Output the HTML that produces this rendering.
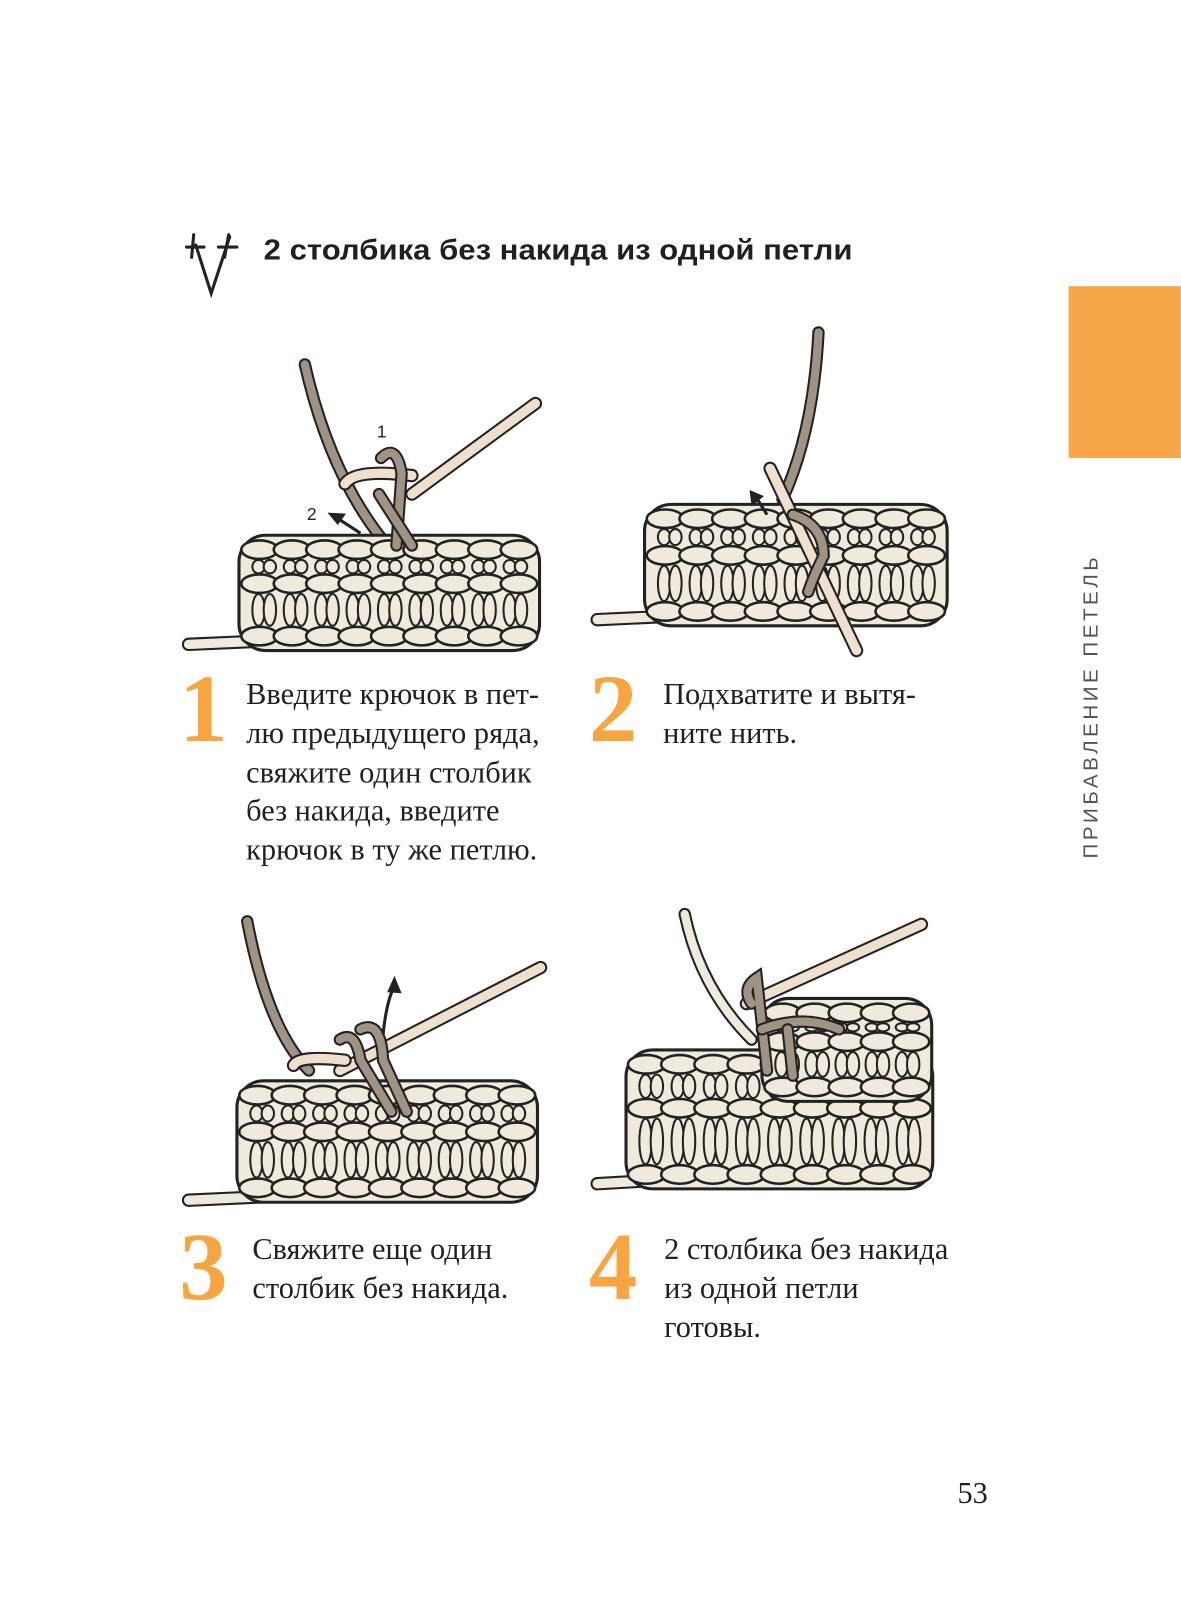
<!DOCTYPE html>
<html><head><meta charset="utf-8">
<style>
html,body{margin:0;padding:0;background:#fff;}
svg{display:block}
.t{font-family:"Liberation Serif",serif;font-size:29.5px;fill:#231f20;}
.n{font-family:"Liberation Serif",serif;font-size:94px;font-weight:bold;fill:#f7a541;}
</style></head><body>
<svg id="s" width="1181" height="1614" viewBox="0 0 1147 1568" xmlns="http://www.w3.org/2000/svg">
<rect x="1038" y="278" width="109" height="167" fill="#f8a64a"/>
<text transform="translate(1066,834) rotate(-90)" font-family="Liberation Sans,sans-serif" font-size="20" letter-spacing="3.4" fill="#555">ПРИБАВЛЕНИЕ ПЕТЕЛЬ</text>
<g stroke="#222" stroke-width="3" fill="none" stroke-linecap="round">
<path d="M190 238 L205 285 L223 230"/><path d="M181 240 L198 240 M188 228 L186 250"/><path d="M212 240 L230 240 M222 228 L218 250"/>
</g>
<text x="256" y="252" font-family="Liberation Sans,sans-serif" font-weight="bold" font-size="28" textLength="572" lengthAdjust="spacingAndGlyphs" fill="#231f20">2 столбика без накида из одной петли</text>
<g id="figs"></g>
<text class="n" x="174" y="720">1</text>
<text class="n" x="572" y="720">2</text>
<text class="n" x="174" y="1262">3</text>
<text class="n" x="572" y="1262">4</text>
<text class="t" x="239" y="684">Введите крючок в пет-</text>
<text class="t" x="239" y="722">лю предыдущего ряда,</text>
<text class="t" x="239" y="760">свяжите один столбик</text>
<text class="t" x="239" y="797">без накида, введите</text>
<text class="t" x="239" y="835">крючок в ту же петлю.</text>
<text class="t" x="644" y="684">Подхватите и вытя-</text>
<text class="t" x="644" y="722">ните нить.</text>
<text class="t" x="245" y="1223">Свяжите еще один</text>
<text class="t" x="245" y="1261">столбик без накида.</text>
<text class="t" x="645" y="1223">2 столбика без накида</text>
<text class="t" x="645" y="1261">из одной петли</text>
<text class="t" x="645" y="1299">готовы.</text>
<text class="t" x="930" y="1460" font-size="25">53</text>
</svg>
<script>
var g=document.getElementById('figs'),h='';
var C='#efeadb',K='#222',Y='#a09383',H='#eee0cc';
function tube(d,col,w){return '<path d="'+d+'" fill="none" stroke="'+K+'" stroke-width="'+(w+4)+'" stroke-linecap="round"/><path d="'+d+'" fill="none" stroke="'+col+'" stroke-width="'+w+'" stroke-linecap="round"/>';}
function fabric(x,y,w,hh,tx,ty,n){
 n=n||9;var s='';
 if(tx)s+=tube('M'+tx+' '+ty+' L'+(x+40)+' '+(ty-4),C,9);
 s+='<rect x="'+x+'" y="'+y+'" width="'+w+'" height="'+hh+'" rx="26" fill="'+C+'" stroke="'+K+'" stroke-width="3"/>';
 var rows=[y+14,y+hh*0.42,y+hh-14];
 for(var r=0;r<3;r++){for(var i=0;i<n;i++){var cx=x+20+i*(w-40)/(n-1);
  s+='<ellipse cx="'+cx+'" cy="'+rows[r]+'" rx="'+((w-40)/(2*(n-1))+2)+'" ry="9" fill="'+C+'" stroke="'+K+'" stroke-width="2.5"/>';}}
 for(var r2=0;r2<2;r2++){var y0=rows[r2]+10,y1=rows[r2+1]-10;for(var j=0;j<n;j++){var cx2=x+24+j*(w-48)/(n-1);
  s+='<ellipse cx="'+(cx2-5)+'" cy="'+(y0+y1)/2+'" rx="6" ry="'+((y1-y0)/2)+'" fill="'+C+'" stroke="'+K+'" stroke-width="2"/>';
  s+='<ellipse cx="'+(cx2+6)+'" cy="'+(y0+y1)/2+'" rx="6" ry="'+((y1-y0)/2)+'" fill="'+C+'" stroke="'+K+'" stroke-width="2"/>';}}
 return s;}
// fig1
h+=tube('M296 354 Q320 460 372 525',Y,8);
h+=fabric(232,520,292,112,183,626);
h+=tube('M400 480 L520 392',H,9);
h+=tube('M335 470 Q345 455 400 462',H,9);
h+=tube('M370 445 Q385 430 390 460 L385 530',Y,8);
h+=tube('M368 480 L400 530',Y,8);
h+='<text x="366" y="425" font-family="Liberation Sans,sans-serif" font-size="17" fill="#222">1</text><text x="298" y="505" font-family="Liberation Sans,sans-serif" font-size="17" fill="#222">2</text>';
h+='<path d="M350 518 L330 505" stroke="#222" stroke-width="3"/><path d="M318 498 L336 499 L328 510Z" fill="#222"/>';
// fig2
h+=tube('M795 323 Q790 420 760 485',Y,8);
h+=fabric(626,490,294,118,580,602);
h+=tube('M748 455 L832 632',H,9);
h+=tube('M770 500 Q800 510 800 540 Q790 560 785 575',Y,8);
h+='<path d="M745 500 L735 484" stroke="#222" stroke-width="3"/><path d="M728 476 L742 482 L730 492Z" fill="#222"/>';
// fig3
h+=tube('M240 895 Q260 1000 300 1040',Y,8);
h+=fabric(230,1050,292,118,183,1166);
h+=tube('M330 1040 L525 940',H,9);
h+=tube('M285 1035 Q290 1025 335 1030',H,9);
h+=tube('M330 1010 Q345 1000 350 1030 L380 1080',Y,8);
h+=tube('M350 1000 Q370 990 372 1030 L395 1080',Y,8);
h+='<path d="M372 1005 Q375 975 382 960" fill="none" stroke="#222" stroke-width="3"/><path d="M383 948 L390 965 L376 964Z" fill="#222"/>';
// fig4
h+=tube('M665 888 Q680 960 730 1010',C,8);
h+=fabric(608,1020,298,135,580,1150);
h+=fabric(740,970,165,100,0,0,5);
h+=tube('M725 975 L895 898',H,9);
h+=tube('M730 975 Q720 960 735 950 L745 1040',Y,8);
h+=tube('M740 1000 Q780 985 815 1000',Y,8);
h+=tube('M765 1000 L770 1045',Y,8);
g.innerHTML=h;
</script>
</body></html>
